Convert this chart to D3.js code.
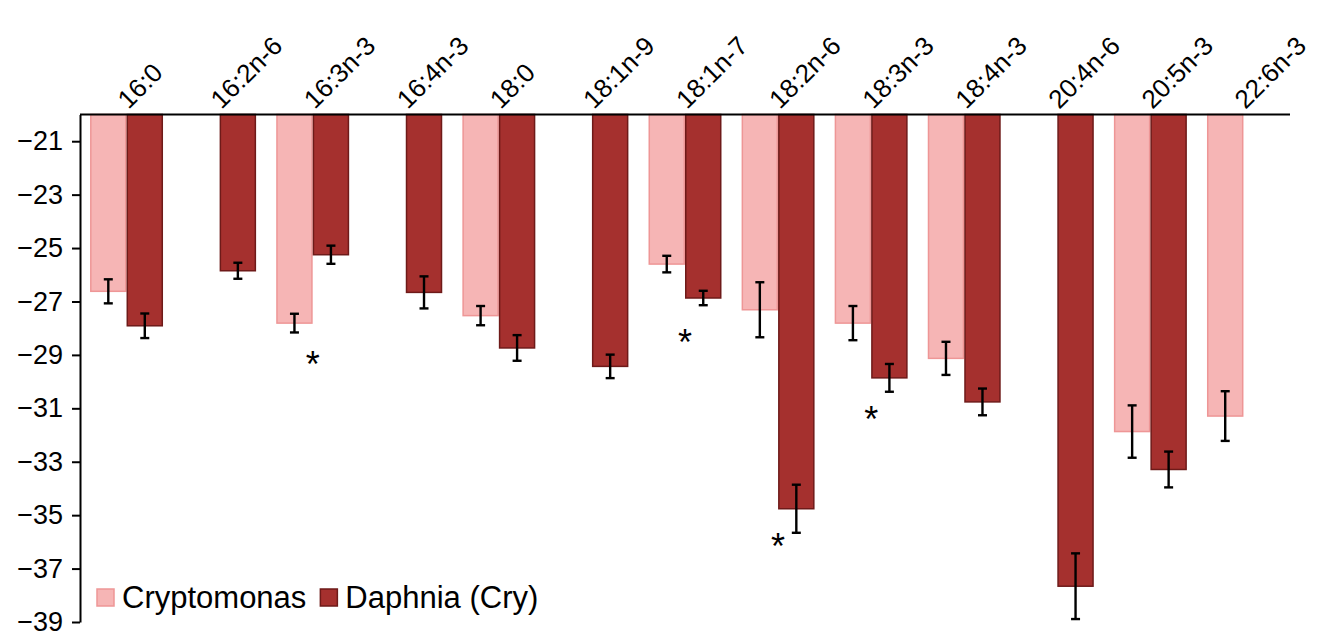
<!DOCTYPE html>
<html>
<head>
<meta charset="utf-8">
<script src="https://cdn.jsdelivr.net/npm/d3@7"></script>
<style>
  body { margin: 0; background: #fff; }
  text { font-family: "Liberation Sans", Arial, sans-serif; fill: #000; }
</style>
</head>
<body>
<div id="chart"></div>
<script>
var categories = ["16:0","16:2n-6","16:3n-3","16:4n-3","18:0","18:1n-9","18:1n-7","18:2n-6","18:3n-3","18:4n-3","20:4n-6","20:5n-3","22:6n-3"];
var seriesNames = ["Cryptomonas", "Daphnia (Cry)"];
var cryptomonas    = [-26.62, null, -27.81, null, -27.53, null, -25.60, -27.31, -27.81, -29.13, null, -31.87, -31.29];
var cryptomonasErr = [0.45, null, 0.35, null, 0.36, null, 0.31, 1.03, 0.64, 0.62, null, 0.98, 0.93];
var daphnia        = [-27.91, -25.85, -25.25, -26.66, -28.74, -29.43, -26.87, -34.76, -29.86, -30.76, -37.66, -33.29, null];
var daphniaErr     = [0.46, 0.30, 0.34, 0.60, 0.48, 0.44, 0.27, 0.90, 0.52, 0.50, 1.23, 0.67, null];
var yTicks = [-21,-23,-25,-27,-29,-31,-33,-35,-37,-39];
var starCats = ["16:3n-3","18:1n-7","18:2n-6","18:3n-3"];
var starVals = [-29.07, -28.24, -35.9, -31.15];

function init()
{
    const width = 1332;
    const height = 640;
    var left = 80, right = 1290, top = 114.5, bottom = 622;

    var fills = ["#f6b5b5", "#a5302e"];
    var strokes = ["#ee9696", "#6e1a19"];

    var svg = d3.select("#chart")
        .append("svg")
        .attr("width", width)
        .attr("height", height);

    var x0 = d3.scaleBand()
        .domain(categories)
        .range([left, right])
        .paddingInner(0.216)
        .paddingOuter(0.108);

    var x1 = d3.scaleBand()
        .domain(seriesNames)
        .range([0, x0.bandwidth()]);

    var y = d3.scaleLinear()
        .domain([-20, -39])
        .range([top, bottom]);

    var rows = categories.map(function(c, i){
        return [
            {cat: c, s: seriesNames[0], v: cryptomonas[i], e: cryptomonasErr[i], k: 0},
            {cat: c, s: seriesNames[1], v: daphnia[i], e: daphniaErr[i], k: 1}
        ].filter(function(d){ return d.v !== null; });
    });
    var bars = d3.merge(rows);

    svg.append("g")
        .selectAll("rect")
        .data(bars)
        .enter()
        .append("rect")
        .attr("x", function(d){ return x0(d.cat) + x1(d.s) + 0.75; })
        .attr("y", y(-20))
        .attr("width", x1.bandwidth() - 1.5)
        .attr("height", function(d){ return y(d.v) - y(-20); })
        .attr("fill", function(d){ return fills[d.k]; })
        .attr("stroke", function(d){ return strokes[d.k]; })
        .attr("stroke-width", 1.5);

    // error bars
    var err = svg.append("g")
        .attr("stroke", "#000")
        .attr("stroke-width", 2.4)
        .selectAll("g")
        .data(bars)
        .enter()
        .append("g")
        .attr("transform", function(d){
            return "translate(" + (x0(d.cat) + x1(d.s) + x1.bandwidth() / 2) + ",0)";
        });
    err.append("line")
        .attr("y1", function(d){ return y(d.v + d.e); })
        .attr("y2", function(d){ return y(d.v - d.e); });
    err.append("line")
        .attr("x1", -4.5).attr("x2", 4.5)
        .attr("y1", function(d){ return y(d.v + d.e); })
        .attr("y2", function(d){ return y(d.v + d.e); });
    err.append("line")
        .attr("x1", -4.5).attr("x2", 4.5)
        .attr("y1", function(d){ return y(d.v - d.e); })
        .attr("y2", function(d){ return y(d.v - d.e); });

    // top axis line
    svg.append("line")
        .attr("x1", left).attr("x2", right)
        .attr("y1", y(-20)).attr("y2", y(-20))
        .attr("stroke", "#000")
        .attr("stroke-width", 2);

    // y axis
    var yAxis = svg.append("g")
        .attr("transform", "translate(" + left + ",0)")
        .call(d3.axisLeft(y).tickValues(yTicks).tickSize(8).tickSizeOuter(0).tickPadding(9));
    yAxis.select(".domain").attr("stroke", "#000").attr("stroke-width", 2);
    yAxis.selectAll(".tick line").attr("stroke", "#000").attr("stroke-width", 2);
    yAxis.selectAll("text")
        .style("font-size", "27px")
        .attr("fill", "#000");

    // category labels at top
    svg.append("g")
        .selectAll("text")
        .data(categories)
        .enter()
        .append("text")
        .attr("transform", function(d){
            return "translate(" + (x0(d) + x0.bandwidth() / 2 + 2) + ",110) rotate(-45)";
        })
        .style("font-size", "26px")
        .text(function(d){ return d; });

    // significance stars
    svg.append("g")
        .selectAll("text")
        .data(starCats)
        .enter()
        .append("text")
        .attr("x", function(d){ return x0(d) + x0.bandwidth() / 2; })
        .attr("y", function(d, i){ return y(starVals[i]) + 20; })
        .attr("text-anchor", "middle")
        .style("font-size", "36px")
        .text("*");

    // legend
    var lg = svg.append("g").attr("transform", "translate(97,589)");
    var lx = 0;
    seriesNames.forEach(function(s, i){
        lg.append("rect")
            .attr("x", lx).attr("y", 0)
            .attr("width", 17).attr("height", 17)
            .attr("fill", fills[i])
            .attr("stroke", strokes[i])
            .attr("stroke-width", 1.5);
        var t = lg.append("text")
            .attr("x", lx + 25)
            .attr("y", 19)
            .style("font-size", "31px")
            .text(s);
        lx += 25 + t.node().getComputedTextLength() + 14;
    });
}

init();
</script>
</body>
</html>
